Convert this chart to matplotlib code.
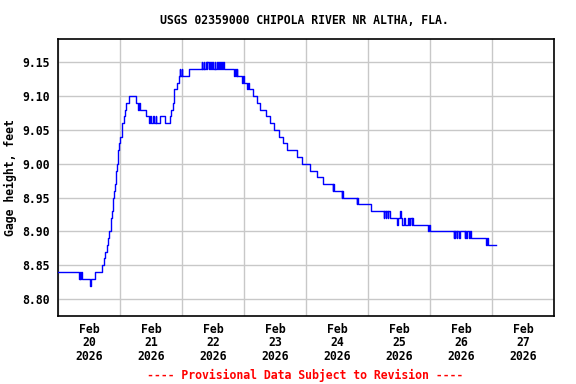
import matplotlib
matplotlib.use("Agg")
import matplotlib.pyplot as plt
import matplotlib.dates as mdates
import pandas as pd

# readings, Feb 2026 ("day hh:mm"), gage height in feet (value holds until next stamp)
stamps = [
    "20 00:00", "20 08:00", "20 08:15", "20 08:30", "20 08:45", "20 09:15", "20 12:15", "20 12:45",
    "20 14:15", "20 17:00", "20 17:45", "20 18:15", "20 18:45", "20 19:15", "20 19:45", "20 20:15",
    "20 20:30", "20 20:45", "20 21:00", "20 21:15", "20 21:45", "20 22:00", "20 22:15", "20 22:30",
    "20 22:45", "20 23:00", "20 23:15", "20 23:30", "21 00:00", "21 00:30", "21 00:45", "21 01:15",
    "21 01:45", "21 02:15", "21 03:30", "21 06:15", "21 07:00", "21 07:15", "21 07:45", "21 10:00",
    "21 11:15", "21 11:30", "21 11:45", "21 12:45", "21 13:00", "21 13:45", "21 14:00", "21 15:15",
    "21 17:15", "21 19:15", "21 19:45", "21 20:15", "21 20:45", "21 22:00", "21 22:45", "21 23:00",
    "21 23:15", "21 23:45", "22 00:00", "22 02:45",
    "22 07:30", "22 07:45", "22 08:15", "22 08:30", "22 09:00", "22 09:30", "22 09:45", "22 10:15",
    "22 10:45", "22 11:00", "22 11:30", "22 11:45", "22 12:30", "22 12:45", "22 13:15", "22 13:45",
    "22 14:15", "22 14:30", "22 15:00", "22 15:15", "22 15:45", "22 16:00",
    "22 20:00", "22 20:15", "22 20:45", "22 21:00", "22 21:15", "22 23:15", "22 23:30", "22 23:45",
    "23 01:00", "23 01:30", "23 01:45", "23 03:15", "23 05:00", "23 06:00", "23 08:30", "23 10:00",
    "23 11:30", "23 13:30", "23 15:00", "23 16:30", "23 20:30", "23 22:30", "24 01:30", "24 04:00",
    "24 06:30", "24 10:15", "24 10:30", "24 10:45", "24 13:45", "24 14:00", "24 14:15", "24 19:30",
    "24 19:45", "24 20:00", "25 01:00", "25 06:00", "25 06:15", "25 06:45", "25 07:00", "25 07:30",
    "25 07:45", "25 08:30", "25 11:00", "25 11:30", "25 12:15", "25 12:30", "25 13:00", "25 14:00",
    "25 14:15", "25 15:30", "25 15:45", "25 16:15", "25 16:45", "25 17:00", "25 17:15", "25 23:15",
    "25 23:30", "25 23:45", "26 09:00", "26 09:15", "26 09:30", "26 09:45", "26 10:15", "26 10:30",
    "26 11:15", "26 11:30", "26 13:15", "26 13:30", "26 14:00", "26 14:15", "26 15:00", "26 15:15",
    "26 15:45", "26 21:45", "26 22:00", "26 22:15", "27 01:15",
]
stage = [
    8.84, 8.83, 8.84, 8.83, 8.84, 8.83, 8.82, 8.83,
    8.84, 8.85, 8.86, 8.87, 8.88, 8.89, 8.90, 8.91,
    8.92, 8.93, 8.94, 8.95, 8.96, 8.97, 8.98, 8.99,
    9.00, 9.01, 9.02, 9.03, 9.04, 9.05, 9.06, 9.07,
    9.08, 9.09, 9.10, 9.09, 9.08, 9.09, 9.08, 9.07,
    9.06, 9.07, 9.06, 9.07, 9.06, 9.07, 9.06, 9.07,
    9.06, 9.07, 9.08, 9.09, 9.11, 9.12, 9.13, 9.14,
    9.13, 9.14, 9.13, 9.14,
    9.15, 9.14, 9.15, 9.14, 9.15, 9.14, 9.15, 9.14,
    9.15, 9.14, 9.15, 9.14, 9.15, 9.14, 9.15, 9.14,
    9.15, 9.14, 9.15, 9.14, 9.15, 9.14,
    9.13, 9.14, 9.13, 9.14, 9.13, 9.12, 9.13, 9.12,
    9.11, 9.12, 9.11, 9.10, 9.09, 9.08, 9.07, 9.06,
    9.05, 9.04, 9.03, 9.02, 9.01, 9.00, 8.99, 8.98,
    8.97, 8.96, 8.97, 8.96, 8.95, 8.96, 8.95, 8.94,
    8.95, 8.94, 8.93, 8.92, 8.93, 8.92, 8.93, 8.92,
    8.93, 8.92, 8.91, 8.92, 8.93, 8.92, 8.91, 8.92,
    8.91, 8.92, 8.91, 8.92, 8.91, 8.92, 8.91, 8.90,
    8.91, 8.90, 8.89, 8.90, 8.89, 8.90, 8.89, 8.90,
    8.89, 8.90, 8.89, 8.90, 8.89, 8.90, 8.89, 8.90,
    8.89, 8.88, 8.89, 8.88, 8.88,
]
yticks = [8.80, 8.85, 8.90, 8.95, 9.00, 9.05, 9.10, 9.15]

times = pd.to_datetime(["2026-02-" + s for s in stamps])
mono = dict(family="DejaVu Sans Mono", weight="bold")
fs = 8.3

fig = plt.figure(figsize=(5.76, 3.84), dpi=100)
ax = fig.add_axes([58.3 / 576, 1 - 316 / 384, 496 / 576, 276.7 / 384])

ax.plot(times, stage, color="#0000ff", lw=1.0, drawstyle="steps-post", zorder=3)

ax.set_xlim(pd.Timestamp("2026-02-20"), pd.Timestamp("2026-02-28"))
ax.set_ylim(8.775, 9.184)

# gridlines at midnight, date labels at noon
ax.xaxis.set_major_locator(mdates.DayLocator())
ax.xaxis.set_major_formatter(plt.NullFormatter())
ax.xaxis.set_minor_locator(mdates.HourLocator(byhour=12))
ax.xaxis.set_minor_formatter(mdates.DateFormatter("%b\n%d\n%Y"))
ax.set_yticks(yticks)
ax.set_yticklabels(["%.2f" % v for v in yticks])
ax.tick_params(axis="both", which="both", length=0, labelsize=fs)
ax.tick_params(axis="y", pad=6)
ax.tick_params(axis="x", which="minor", pad=5)
for lab in ax.get_xticklabels(minor=True) + ax.get_yticklabels():
    lab.set_fontfamily(mono["family"])
    lab.set_fontweight("bold")
    lab.set_linespacing(1.05)

ax.grid(True, which="major", color="#c8c8c8", lw=1.0)
for s in ax.spines.values():
    s.set_linewidth(1.2)

ax.set_ylabel("Gage height, feet", fontsize=fs, labelpad=4, **mono)
fig.text(304 / 576, 1 - 20 / 384, "USGS 02359000 CHIPOLA RIVER NR ALTHA, FLA.",
         ha="center", va="center", fontsize=fs, **mono)
fig.text(305 / 576, 1 - 375 / 384, "---- Provisional Data Subject to Revision ----",
         ha="center", va="center", fontsize=fs, color="red", **mono)

fig.savefig("out.png", dpi=100)
